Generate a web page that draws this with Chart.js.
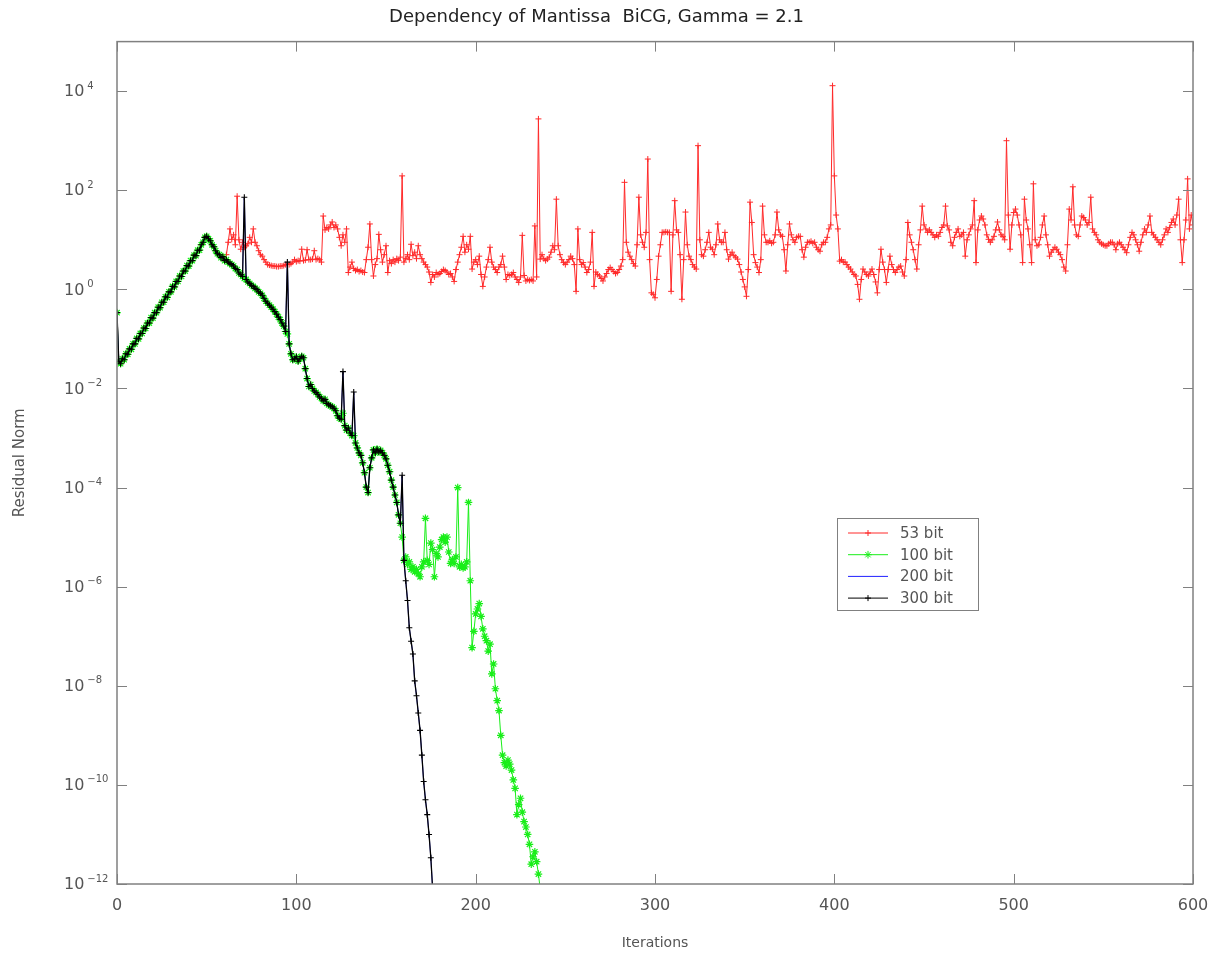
<!DOCTYPE html>
<html>
<head>
<meta charset="utf-8">
<title>Dependency of Mantissa BiCG</title>
<script src="https://cdn.jsdelivr.net/npm/chart.js@4.4.1/dist/chart.umd.min.js"></script>
<style>
  html, body { margin: 0; padding: 0; background: #fff; }
</style>
</head>
<body>
<canvas id="chart" width="1209" height="958"></canvas>
<script>
// residual norms stored as log10 exponents, one value per iteration

// iterations 0..60, identical for every mantissa length
const headExp = [
  -0.47, -1.45, -1.50, -1.40, -1.42, -1.30, -1.31, -1.20, -1.21, -1.10,
  -1.10, -0.99, -1.00, -0.89, -0.89, -0.78, -0.79, -0.68, -0.68, -0.57,
  -0.58, -0.47, -0.47, -0.36, -0.37, -0.26, -0.26, -0.15, -0.16, -0.05,
  -0.05, 0.06, 0.05, 0.16, 0.16, 0.27, 0.26, 0.37, 0.37, 0.48,
  0.47, 0.58, 0.58, 0.69, 0.68, 0.79, 0.79, 0.90, 0.95, 1.05,
  1.07, 1.02, 0.98, 0.90, 0.86, 0.78, 0.72, 0.70, 0.64, 0.66,
  0.58
];

// iterations 61..160, shared by 100/200/300 bit
const descentExp = [
  0.60, 0.55, 0.52, 0.50, 0.47, 0.42, 0.40, 0.33, 0.30, 0.26,
  0.22, 0.20, 0.15, 0.12, 0.08, 0.06, 0.02, 0.00, -0.05, -0.08,
  -0.12, -0.18, -0.24, -0.28, -0.32, -0.36, -0.40, -0.45, -0.50, -0.56,
  -0.61, -0.68, -0.74, -0.85, -0.90, -1.10, -1.30, -1.42, -1.40, -1.36,
  -1.45, -1.40, -1.35, -1.38, -1.60, -1.80, -1.96, -1.92, -2.00, -2.05,
  -2.08, -2.12, -2.17, -2.20, -2.25, -2.22, -2.30, -2.33, -2.35, -2.37,
  -2.40, -2.45, -2.55, -2.60, -2.62, -2.50, -2.75, -2.84, -2.80, -2.90,
  -2.95, -2.95, -3.10, -3.20, -3.30, -3.35, -3.50, -3.70, -3.99, -4.10,
  -3.60, -3.40, -3.24, -3.30, -3.22, -3.28, -3.25, -3.30, -3.35, -3.42,
  -3.55, -3.68, -3.85, -3.99, -4.15, -4.30, -4.55, -4.72, -5.00, -5.47
];

// 53 bit, iterations 61..600
const redExp = [
  0.70, 0.95, 1.22, 1.01, 1.10, 0.90, 1.88, 1.00, 0.81, 0.95,
  0.85, 0.88, 0.92, 1.05, 0.95, 1.22, 0.95, 0.88, 0.78, 0.70,
  0.67, 0.60, 0.55, 0.50, 0.49, 0.48, 0.47, 0.47, 0.46, 0.46,
  0.47, 0.47, 0.48, 0.50, 0.51, 0.50, 0.52, 0.55, 0.60, 0.56,
  0.58, 0.57, 0.81, 0.58, 0.59, 0.80, 0.60, 0.60, 0.61, 0.78,
  0.60, 0.62, 0.60, 0.55, 1.48, 1.20, 1.25, 1.22, 1.30, 1.36,
  1.25, 1.30, 1.22, 1.05, 0.88, 1.10, 0.95, 1.22, 0.34, 0.45,
  0.55, 0.42, 0.38, 0.40, 0.36, 0.38, 0.35, 0.34, 0.60, 0.85,
  1.32, 0.60, 0.27, 0.50, 0.62, 1.11, 0.80, 0.55, 0.70, 0.88,
  0.34, 0.58, 0.52, 0.60, 0.55, 0.62, 0.58, 0.65, 2.29, 0.55,
  0.62, 0.70, 0.60, 0.91, 0.68, 0.75, 0.62, 0.88, 0.70, 0.62,
  0.55, 0.50, 0.45, 0.35, 0.14, 0.30, 0.25, 0.34, 0.30, 0.32,
  0.36, 0.40, 0.38, 0.35, 0.30, 0.32, 0.25, 0.16, 0.40, 0.55,
  0.70, 0.85, 1.07, 0.75, 0.90, 0.81, 1.07, 0.41, 0.55, 0.60,
  0.50, 0.67, 0.30, 0.06, 0.25, 0.45, 0.60, 0.85, 0.55, 0.45,
  0.40, 0.34, 0.45, 0.50, 0.67, 0.45, 0.20, 0.30, 0.28, 0.30,
  0.34, 0.25, 0.20, 0.14, 0.25, 1.09, 0.28, 0.17, 0.20, 0.18,
  0.20, 0.17, 1.28, 0.25, 3.44, 0.61, 0.70, 0.62, 0.58, 0.61,
  0.65, 0.75, 0.88, 0.80, 1.82, 0.88, 0.70, 0.60, 0.54, 0.50,
  0.55, 0.60, 0.67, 0.62, 0.50, -0.04, 1.22, 0.60, 0.50, 0.54,
  0.45, 0.34, 0.40, 0.55, 1.15, 0.06, 0.35, 0.30, 0.27, 0.22,
  0.17, 0.25, 0.32, 0.40, 0.44, 0.40, 0.36, 0.32, 0.34, 0.40,
  0.47, 0.60, 2.16, 0.95, 0.75, 0.67, 0.60, 0.52, 0.47, 0.90,
  1.86, 1.10, 0.95, 0.85, 1.15, 2.63, 0.60, -0.07, -0.10, -0.17,
  0.20, 0.67, 0.90, 1.15, 1.15, 1.16, 1.15, 1.15, -0.04, 1.10,
  1.79, 1.20, 1.15, 0.70, -0.20, 0.60, 1.56, 0.90, 0.67, 0.60,
  0.50, 0.45, 0.41, 2.90, 1.00, 0.70, 0.67, 0.80, 0.95, 1.15,
  0.85, 0.81, 0.70, 0.90, 1.32, 1.00, 0.95, 0.95, 1.15, 0.80,
  0.61, 0.70, 0.75, 0.68, 0.65, 0.61, 0.50, 0.35, 0.20, 0.05,
  -0.14, 0.40, 1.76, 1.35, 0.70, 0.54, 0.45, 0.34, 0.60, 1.68,
  1.10, 0.95, 0.95, 0.98, 0.93, 0.95, 1.10, 1.56, 1.20, 1.10,
  1.07, 0.80, 0.37, 0.90, 1.32, 1.10, 1.00, 0.95, 1.05, 1.07,
  1.07, 0.80, 0.65, 0.85, 0.95, 0.95, 0.97, 0.93, 0.95, 0.85,
  0.80, 0.77, 0.90, 0.95, 0.95, 1.05, 1.22, 1.30, 4.11, 2.29,
  1.50, 1.22, 0.57, 0.60, 0.55, 0.55, 0.50, 0.45, 0.41, 0.35,
  0.30, 0.27, 0.10, -0.20, 0.20, 0.41, 0.35, 0.30, 0.27, 0.35,
  0.41, 0.30, 0.15, -0.07, 0.40, 0.81, 0.55, 0.40, 0.14, 0.40,
  0.67, 0.50, 0.40, 0.34, 0.40, 0.45, 0.47, 0.35, 0.27, 0.60,
  1.35, 1.10, 0.95, 0.80, 0.60, 0.41, 0.90, 1.20, 1.68, 1.30,
  1.22, 1.15, 1.20, 1.15, 1.10, 1.05, 1.10, 1.07, 1.15, 1.25,
  1.30, 1.68, 1.28, 1.20, 0.95, 0.88, 1.05, 1.15, 1.22, 1.07,
  1.10, 1.15, 0.67, 1.00, 1.10, 1.22, 1.30, 1.79, 0.54, 1.20,
  1.40, 1.48, 1.42, 1.30, 1.10, 1.01, 0.95, 1.00, 1.07, 1.20,
  1.36, 1.20, 1.10, 1.07, 1.00, 3.00, 1.50, 0.81, 1.30, 1.55,
  1.62, 1.50, 1.30, 1.10, 0.54, 1.82, 1.40, 1.22, 0.90, 0.54,
  2.13, 1.00, 0.88, 0.90, 1.05, 1.30, 1.48, 1.10, 0.90, 0.67,
  0.75, 0.80, 0.85, 0.81, 0.75, 0.70, 0.60, 0.45, 0.37, 0.90,
  1.62, 1.40, 2.07, 1.30, 1.10, 1.07, 1.30, 1.48, 1.45, 1.40,
  1.30, 1.35, 1.86, 1.22, 1.15, 1.10, 1.00, 0.95, 0.92, 0.90,
  0.88, 0.88, 0.92, 0.95, 0.95, 0.90, 0.80, 0.92, 0.95, 0.90,
  0.85, 0.80, 0.74, 0.90, 1.05, 1.15, 1.10, 1.00, 0.90, 0.77,
  0.95, 1.10, 1.22, 1.15, 1.30, 1.48, 1.15, 1.10, 1.05, 1.00,
  0.95, 0.90, 1.00, 1.10, 1.22, 1.15, 1.25, 1.35, 1.42, 1.30,
  1.50, 1.82, 1.00, 0.54, 1.00, 1.40, 2.23, 1.22, 1.50, 1.30
];

// 100 bit, iterations 161..236
const greenTailExp = [
  -5.40, -5.55, -5.50, -5.65, -5.60, -5.70, -5.65, -5.74, -5.80, -5.60,
  -5.50, -4.62, -5.47, -5.55, -5.12, -5.25, -5.80, -5.33, -5.40, -5.20,
  -5.05, -5.00, -5.10, -5.00, -5.30, -5.53, -5.45, -5.53, -5.40, -4.00,
  -5.60, -5.55, -5.62, -5.60, -5.50, -4.30, -5.88, -7.23, -6.90, -6.55,
  -6.45, -6.34, -6.60, -6.85, -7.00, -7.09, -7.30, -7.16, -7.76, -7.56,
  -8.06, -8.30, -8.50, -9.00, -9.40, -9.55, -9.62, -9.50, -9.58, -9.70,
  -9.90, -10.07, -10.60, -10.40, -10.27, -10.55, -10.74, -10.85, -11.00, -11.20,
  -11.60, -11.45, -11.35, -11.55, -11.80, -12.10
];

// 300 bit, iterations 161..176
const blackTailExp = [
  -5.88, -6.28, -6.83, -7.10, -7.36, -7.90, -8.20, -8.55, -8.90, -9.40,
  -9.93, -10.30, -10.60, -11.00, -11.47, -12.10
];

// single-iteration jumps of the 300 bit run
const blackSpikeIters = [71, 95, 126, 132, 159];
const blackSpikeExps = [1.86, 0.55, -1.66, -2.07, -3.75];

const seriesNames = ["53 bit", "100 bit", "200 bit", "300 bit"];
const xTicks = [0, 100, 200, 300, 400, 500, 600];
const yTickExps = [-12, -10, -8, -6, -4, -2, 0, 2, 4];

const FONT = "'DejaVu Sans', sans-serif";

function toPoints(exps) {
  return exps.map((e, i) => ({ x: i, y: Math.pow(10, e) }));
}

const redSeries = headExp.concat(redExp);
const greenSeries = headExp.concat(descentExp, greenTailExp);
const blackSeries = headExp.concat(descentExp, blackTailExp);
blackSpikeIters.forEach((it, k) => { blackSeries[it] = blackSpikeExps[k]; });

// axes box with inward ticks on all four sides
const frame = {
  id: "frame",
  afterDatasetsDraw(chart) {
    const { ctx, chartArea: a, scales } = chart;
    ctx.save();
    ctx.strokeStyle = "#808080";
    ctx.lineWidth = 1.5;
    ctx.strokeRect(a.left, a.top, a.right - a.left, a.bottom - a.top);
    ctx.beginPath();
    xTicks.forEach(v => {
      const px = Math.round(scales.x.getPixelForValue(v)) + 0.5;
      ctx.moveTo(px, a.bottom); ctx.lineTo(px, a.bottom - 10);
      ctx.moveTo(px, a.top); ctx.lineTo(px, a.top + 10);
    });
    yTickExps.forEach(e => {
      const py = Math.round(scales.y.getPixelForValue(Math.pow(10, e))) + 0.5;
      ctx.moveTo(a.left, py); ctx.lineTo(a.left + 10, py);
      ctx.moveTo(a.right, py); ctx.lineTo(a.right - 10, py);
    });
    ctx.lineWidth = 1;
    ctx.stroke();
    ctx.restore();
  }
};

// "10" with a raised exponent beside each decade tick of the y scale
const powerLabels = {
  id: "powerLabels",
  afterDraw(chart) {
    const { ctx, scales } = chart;
    ctx.save();
    ctx.fillStyle = "#555";
    ctx.textBaseline = "middle";
    ctx.textAlign = "left";
    yTickExps.forEach(e => {
      const py = scales.y.getPixelForValue(Math.pow(10, e));
      ctx.font = "16px " + FONT;
      ctx.fillText("10", 64, py + 1);
      const w = ctx.measureText("10").width;
      ctx.font = "10px " + FONT;
      ctx.fillText(String(e).replace("-", "\u2212"), 64 + w + 3, py - 5);
    });
    ctx.restore();
  }
};

// boxed legend sitting inside the plot
const legendBox = {
  id: "legendBox",
  afterDraw(chart) {
    const ctx = chart.ctx;
    const bx = 837, by = 518, bw = 141, bh = 92;
    ctx.save();
    ctx.fillStyle = "#fff";
    ctx.fillRect(bx, by, bw, bh);
    ctx.strokeStyle = "#808080";
    ctx.lineWidth = 1;
    ctx.strokeRect(bx + 0.5, by + 0.5, bw, bh);
    ctx.font = "15px " + FONT;
    ctx.textBaseline = "middle";
    chart.data.datasets.forEach((ds, i) => {
      const y = by + 15 + i * 21.7;
      ctx.strokeStyle = ds.borderColor;
      ctx.lineWidth = 1;
      ctx.beginPath();
      ctx.moveTo(bx + 11, y); ctx.lineTo(bx + 51, y);
      ctx.stroke();
      if (ds.pointRadius > 0) {
        ctx.strokeStyle = ds.pointBorderColor;
        ctx.fillStyle = ds.pointBorderColor;
        Chart.helpers.drawPoint(ctx, {
          pointStyle: ds.pointStyle, radius: ds.pointRadius,
          borderWidth: ds.pointBorderWidth, rotation: 0
        }, bx + 31, y);
      }
      ctx.fillStyle = "#555";
      ctx.fillText(seriesNames[i], bx + 63, y + 1);
    });
    ctx.restore();
  }
};

new Chart(document.getElementById("chart"), {
  type: "line",
  data: {
    datasets: [
      {
        label: seriesNames[0], data: toPoints(redSeries), order: 4,
        borderColor: "#ff2a2a", borderWidth: 1,
        pointStyle: "cross", pointRadius: 3, pointBorderWidth: 1,
        pointBorderColor: "#ff2a2a", pointBackgroundColor: "#ff2a2a"
      },
      {
        label: seriesNames[1], data: toPoints(greenSeries), order: 3,
        borderColor: "#19ee19", borderWidth: 1,
        pointStyle: "star", pointRadius: 3.8, pointBorderWidth: 1.2,
        pointBorderColor: "#19ee19", pointBackgroundColor: "#19ee19"
      },
      {
        label: seriesNames[2], data: toPoints(blackSeries), order: 2,
        borderColor: "#2020ff", borderWidth: 0.8, pointRadius: 0
      },
      {
        label: seriesNames[3], data: toPoints(blackSeries), order: 1,
        borderColor: "#000", borderWidth: 1.3,
        pointStyle: "cross", pointRadius: 3, pointBorderWidth: 1.1,
        pointBorderColor: "#000", pointBackgroundColor: "#000"
      }
    ]
  },
  options: {
    responsive: false,
    animation: false,
    devicePixelRatio: 1,
    layout: { padding: { left: 0, right: 16, top: 0, bottom: 0 } },
    elements: { line: { tension: 0 } },
    plugins: {
      legend: { display: false },
      tooltip: { enabled: false },
      title: {
        display: true,
        text: "Dependency of Mantissa  BiCG, Gamma = 2.1",
        color: "#222",
        font: { family: FONT, size: 18, weight: "normal", lineHeight: 1.2 },
        padding: { top: 7, bottom: 13 }
      }
    },
    scales: {
      x: {
        type: "linear", min: 0, max: 600,
        grid: { display: false, drawTicks: false },
        border: { display: false },
        ticks: { stepSize: 100, color: "#555", padding: 12, font: { family: FONT, size: 16 } },
        title: {
          display: true, text: "Iterations", color: "#555",
          font: { family: FONT, size: 14 }, padding: { top: 0, bottom: 6 }
        },
        afterFit(s) { s.height = 74; s.paddingLeft = 0; s.paddingRight = 0; }
      },
      y: {
        type: "logarithmic", min: 1e-12, max: 1e5,
        grid: { display: false, drawTicks: false },
        border: { display: false },
        afterBuildTicks(s) { s.ticks = yTickExps.map(e => ({ value: Math.pow(10, e) })); },
        ticks: { display: false },
        title: {
          display: true, text: "Residual Norm", color: "#555",
          font: { family: FONT, size: 15 }, padding: { top: 11, bottom: 0 }
        },
        afterFit(s) { s.width = 117; s.paddingTop = 0; s.paddingBottom = 0; }
      }
    }
  },
  plugins: [frame, powerLabels, legendBox]
});
</script>
</body>
</html>
